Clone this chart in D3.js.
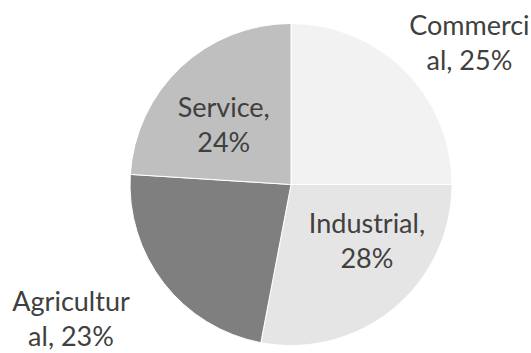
<!DOCTYPE html>
<html>
<head>
<meta charset="utf-8">
<script src="https://cdn.jsdelivr.net/npm/d3@7"></script>
<style>
  body { margin: 0; background: #fff; }
  svg text { font-family: Lato, "Open Sans", sans-serif; fill: #404040; }
</style>
</head>
<body>
<svg class="pie" width="531" height="353"></svg>
<script>
// sectors, clockwise from 12 o'clock
var sectors = ["Commercial", "Industrial", "Agriculture", "Service"];
var shares = [25, 28, 23, 24];
var labelLines = [["Commerci", "al, 25%"], ["Industrial,", "28%"], ["Agricultur", "al, 23%"], ["Service,", "24%"]];

var svg = d3.select("svg.pie"),
    cx = 291, cy = 184.5, radius = 161;

var z = d3.scaleOrdinal()
    .domain(sectors)
    .range(["#f2f2f2", "#e5e5e5", "#7f7f7f", "#bfbfbf"]);

var pie = d3.pie().sort(null).value(function(d) { return d.value; });
var arc = d3.arc().innerRadius(0).outerRadius(radius);

var data = sectors.map(function(name, i) {
  return {name: name, value: shares[i], lines: labelLines[i]};
});

var g = svg.append("g").attr("transform", "translate(" + cx + "," + cy + ")");

var slices = pie(data);

g.selectAll(".slice")
  .data(slices)
  .enter().append("path")
    .attr("class", "slice")
    .attr("d", arc)
    .style("fill", function(d) { return z(d.data.name); })
    .style("stroke", "#fff")
    .style("stroke-width", 1);

// label placement like excel best fit: radius factor + angle nudge (deg)
var place = {
  Commercial:  {r: 1.38, da: 8.4},
  Industrial:  {r: 0.625, da: -9.4},
  Agriculture: {r: 1.633, da: 4.6},
  Service:     {r: 0.52, da: -10.3}
};

var lineH = 35;

var labels = g.selectAll(".label")
  .data(slices)
  .enter().append("text")
    .attr("class", "label")
    .attr("text-anchor", "middle")
    .style("font-size", "27px")
    .attr("transform", function(d) {
      var p = place[d.data.name];
      var a = (d.startAngle + d.endAngle) / 2 + p.da * Math.PI / 180;
      var r = p.r * radius;
      return "translate(" + (r * Math.sin(a)) + "," + (-r * Math.cos(a)) + ")";
    });

labels.selectAll("tspan")
  .data(function(d) { return d.data.lines; })
  .enter().append("tspan")
    .attr("x", 0)
    .attr("y", function(d, i) { return (i - 0.5) * lineH; })
    .text(function(d) { return d; });
</script>
</body>
</html>
